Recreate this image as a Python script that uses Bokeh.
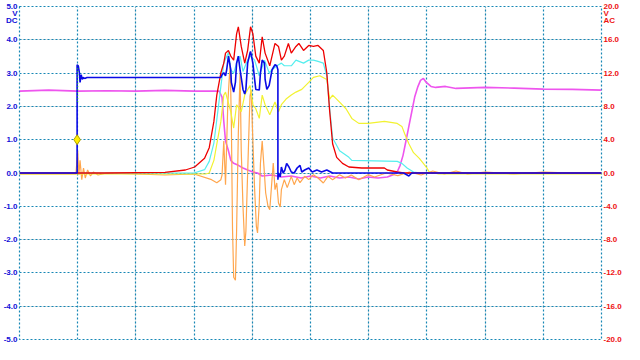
import numpy as np
from bokeh.plotting import figure
from bokeh.models import Range1d, LinearAxis, FixedTicker, PrintfTickFormatter, Grid
from bokeh.embed import file_html
from bokeh.resources import INLINE

# time axis in divisions (0..10), values in volts (left scale)
x_ticks = [0, 1, 2, 3, 4, 5, 6, 7, 8, 9, 10]
y_ticks = [-5, -4, -3, -2, -1, 0, 1, 2, 3, 4, 5]
r_ticks = [-20, -16, -12, -8, -4, 0, 4, 8, 12, 16, 20]
left_unit = {4.8: "V", 4.58: "DC"}
right_unit = {19.2: "V", 18.3: "AC"}

red_t = [0, 1.5, 2.5, 2.85, 3.01, 3.18, 3.26, 3.34, 3.39, 3.46, 3.51, 3.54, 3.59, 3.63, 3.68, 3.73, 3.76, 3.81,
         3.87, 3.92, 3.97, 4.01, 4.06, 4.12, 4.17, 4.22, 4.30, 4.39, 4.45, 4.50, 4.55, 4.62, 4.67, 4.75, 4.80,
         4.88, 4.97, 5.05, 5.13, 5.22, 5.28, 5.33, 5.38, 5.45, 5.55, 5.66, 5.88, 6.27, 6.32, 6.49, 6.6, 10]
red_v = [0, 0.0, 0.02, 0.09, 0.18, 0.44, 0.76, 1.55, 2.34, 3.01, 3.30, 3.60, 3.68, 3.51, 3.39, 4.18, 4.39, 3.80,
         3.30, 3.68, 4.39, 4.18, 3.51, 3.30, 4.09, 3.60, 3.22, 3.89, 3.80, 3.39, 3.51, 3.89, 3.60, 3.80, 3.89,
         3.68, 3.83, 3.80, 3.83, 3.68, 3.01, 1.84, 0.88, 0.47, 0.29, 0.18, 0.15, 0.15, 0.09, 0.03, 0, 0]

cyan_t = [0, 3.0, 3.18, 3.26, 3.34, 3.39, 3.46, 3.51, 3.59, 3.63, 3.68, 3.73, 3.79, 3.84, 3.92, 3.97, 4.04, 4.12,
          4.21, 4.29, 4.34, 4.42, 4.50, 4.55, 4.67, 4.75, 4.88, 4.97, 5.05, 5.13, 5.22, 5.28, 5.33, 5.38, 5.50,
          5.66, 5.71, 6.49, 6.57, 6.66, 6.77, 6.9, 10]
cyan_v = [0, 0.0, 0.1, 0.35, 0.9, 1.6, 2.6, 3.30, 3.62, 3.10, 3.00, 3.30, 3.51, 3.05, 3.40, 3.51, 3.39, 2.92,
          3.39, 3.01, 3.10, 3.22, 3.30, 3.22, 3.22, 3.39, 3.30, 3.39, 3.39, 3.35, 3.30, 2.92, 1.93, 1.05, 0.67,
          0.47, 0.38, 0.35, 0.29, 0.15, 0.03, 0, 0]

yel_t = [0, 3.2, 3.26, 3.34, 3.46, 3.51, 3.54, 3.63, 3.68, 3.73, 3.81, 3.87, 3.96, 4.01, 4.06, 4.12, 4.17, 4.22,
         4.30, 4.39, 4.45, 4.50, 4.58, 4.67, 4.75, 4.85, 4.97, 5.05, 5.16, 5.28, 5.33, 5.38, 5.50, 5.61, 5.71,
         5.83, 5.99, 6.27, 6.49, 6.57, 6.62, 6.69, 6.77, 6.87, 6.99, 7.04, 7.2, 10]
yel_v = [-0.03, -0.03, 0.0, 0.38, 1.55, 2.34, 2.43, 1.84, 1.35, 2.05, 1.84, 2.34, 2.63, 2.05, 1.93, 1.64, 2.34, 2.05,
         1.75, 2.13, 1.84, 2.05, 2.22, 2.34, 2.43, 2.51, 2.72, 2.87, 2.92, 2.81, 2.22, 2.34, 2.13, 1.93, 1.64,
         1.49, 1.49, 1.55, 1.49, 1.40, 1.17, 0.88, 0.61, 0.44, 0.18, 0.03, -0.03, -0.03]

mag_t = [0, 0.5, 1.0, 1.5, 2.0, 2.5, 3.0, 3.43, 3.48, 3.51, 3.54, 3.59, 3.63, 3.68, 3.76, 3.84, 3.92, 4.01, 4.09,
         4.17, 4.34, 4.50, 4.67, 4.84, 5.0, 5.17, 5.33, 5.50, 5.66, 5.83, 5.99, 6.16, 6.32, 6.41, 6.49, 6.54,
         6.59, 6.64, 6.69, 6.74, 6.79, 6.84, 6.89, 6.94, 6.99, 7.07, 7.15, 7.32, 7.5, 8, 8.5, 9, 9.5, 10]
mag_v = [2.46, 2.49, 2.46, 2.47, 2.46, 2.48, 2.46, 2.46, 2.28, 1.55, 0.96, 0.67, 0.38, 0.29, 0.23, 0.15, 0.09,
         0.03, 0.0, -0.09, -0.06, -0.12, -0.09, -0.15, -0.09, -0.15, -0.09, -0.15, -0.12, -0.18, -0.12, -0.15,
         -0.12, -0.06, 0.03, 0.23, 0.53, 0.96, 1.40, 1.84, 2.28, 2.57, 2.78, 2.84, 2.72, 2.60, 2.57, 2.60, 2.54,
         2.57, 2.55, 2.52, 2.51, 2.49]

blue_t = [0, 0.99, 0.99, 1.01, 1.03, 1.04, 1.06, 1.08, 1.09, 1.12, 1.16, 3.43, 3.46, 3.48, 3.51, 3.54, 3.56, 3.59,
          3.63, 3.64, 3.68, 3.71, 3.73, 3.76, 3.79, 3.84, 3.87, 3.89, 3.92, 3.96, 3.97, 4.01, 4.04, 4.06, 4.12,
          4.14, 4.17, 4.21, 4.22, 4.25, 4.29, 4.34, 4.39, 4.42, 4.44, 4.44, 4.45, 4.48, 4.50, 4.53, 4.56, 4.59,
          4.63, 4.67, 4.72, 4.77, 4.82, 4.85, 4.90, 4.97, 5.03, 5.11, 5.19, 5.28, 5.38, 6.6, 6.69, 6.74, 10]
blue_v = [0, 0, 3.25, 3.22, 3.0, 2.72, 2.95, 2.81, 2.87, 2.84, 2.87, 2.87, 2.87, 2.95, 3.01, 2.92, 3.10, 3.51,
          3.10, 2.72, 2.43, 2.72, 3.30, 3.51, 3.10, 2.51, 2.37, 2.51, 3.30, 3.60, 3.65, 3.30, 2.81, 2.51, 2.49,
          3.01, 3.39, 3.30, 2.81, 2.51, 2.63, 3.10, 3.25, 3.22, 3.10, -0.20, 0.0, -0.12, 0.18, 0.0, 0.09, 0.29,
          0.18, 0.03, 0.0, 0.15, 0.23, 0.03, 0.09, 0.15, 0.03, 0.09, 0.03, 0.09, 0.0, 0.0, -0.09, 0.0, 0]

org_t = [0, 0.5, 0.97, 1.0, 1.02, 1.04, 1.07, 1.1, 1.13, 1.17, 1.22, 1.27, 1.35, 1.5, 2, 2.5, 3.0, 3.3, 3.39,
         3.46, 3.48, 3.51, 3.54, 3.58, 3.62, 3.64, 3.66, 3.68, 3.71, 3.73, 3.76, 3.79, 3.81, 3.84, 3.87, 3.89,
         3.92, 3.96, 3.98, 4.01, 4.04, 4.07, 4.09, 4.12, 4.14, 4.17, 4.20, 4.23, 4.27, 4.30, 4.33, 4.36, 4.39,
         4.42, 4.45, 4.48, 4.50, 4.55, 4.60, 4.67, 4.72, 4.77, 4.82, 4.90, 4.97, 5.05, 5.13, 5.22, 5.3, 5.38,
         5.5, 5.6, 5.7, 5.83, 5.99, 6.1, 6.3, 6.5, 6.7, 6.9, 7.1, 7.3, 7.5, 7.7, 8, 8.5, 9, 9.5, 10]
org_v = [-0.03, -0.02, -0.03, 0.67, -0.06, 0.38, -0.2, 0.15, -0.15, 0.09, -0.09, 0.03, -0.06, 0.0, -0.03, -0.06,
         -0.03, -0.2, -0.29, -0.2, -0.06, 0.96, -0.35, 2.13, 3.30, 1.55, -1.67, -3.13, -3.22, -1.75, 1.20, 3.01,
         0.67, -1.0, -2.19, -1.75, 0.0, 2.3, 2.5, 0.96, -0.50, -1.6, -1.8, -0.9, 0.3, 0.96, 0.2, -0.6, -1.0, -1.1,
         -0.4, 0.3, -0.5, -0.3, -0.9, -1.02, -0.5, -0.2, -0.44, -0.1, -0.35, -0.15, -0.29, -0.1, -0.2, -0.05,
         -0.15, -0.3, -0.1, -0.2, -0.05, -0.15, -0.06, -0.2, -0.05, -0.12, 0.0, -0.08, 0.03, -0.06, 0.06, -0.03,
         0.06, -0.03, 0.03, -0.03, 0.03, 0.0, 0.0]

trig_t = [0.99]
trig_v = [1.0]
cursor_t = [1.0, 1.0]
cursor_v = [2.13, 3.22]

GRID = "#1787b5"
FONT = "Liberation Sans"

p = figure(width=624, height=344, output_backend="svg", toolbar_location=None,
           x_range=Range1d(0, 10), y_range=Range1d(-5, 5),
           x_axis_location=None, y_axis_location=None,
           min_border_left=4, min_border_right=4, min_border_top=6, min_border_bottom=5,
           background_fill_color="white", border_fill_color="white")
p.outline_line_color = GRID
p.outline_line_dash = "2 2"
p.outline_line_width = 1.2

p.add_layout(Grid(dimension=0, ticker=FixedTicker(ticks=x_ticks), grid_line_color=GRID,
                  grid_line_dash="2 2", grid_line_width=1.2))
p.add_layout(Grid(dimension=1, ticker=FixedTicker(ticks=y_ticks), grid_line_color=GRID,
                  grid_line_dash="2 2", grid_line_width=1.2))

left = LinearAxis(ticker=FixedTicker(ticks=y_ticks + list(left_unit.keys())),
                  formatter=PrintfTickFormatter(format="%.1f"),
                  major_label_overrides=left_unit)
p.add_layout(left, "left")
p.extra_y_ranges = {"r": Range1d(-20, 20)}
right = LinearAxis(y_range_name="r", ticker=FixedTicker(ticks=r_ticks + list(right_unit.keys())),
                   formatter=PrintfTickFormatter(format="%.1f"),
                   major_label_overrides=right_unit)
p.add_layout(right, "right")
for ax, col in ((left, "#1010d8"), (right, "#ee1111")):
    ax.axis_line_color = None
    ax.major_tick_line_color = None
    ax.minor_tick_line_color = None
    ax.major_tick_out = 0
    ax.major_tick_in = 0
    ax.minor_tick_out = 0
    ax.minor_tick_in = 0
    ax.major_label_text_color = col
    ax.major_label_text_font = FONT
    ax.major_label_text_font_style = "bold"
    ax.major_label_text_font_size = "8px"
    ax.major_label_standoff = 2

p.line(mag_t, mag_v, color="#ee55ee", line_width=1.6)
p.line(org_t, org_v, color="#ffa64d", line_width=1.2)
p.line(yel_t, yel_v, color="#f2f230", line_width=1.2)
p.line(cyan_t, cyan_v, color="#55eeee", line_width=1.2)
p.line(red_t, red_v, color="#ee0000", line_width=1.3)
p.line(blue_t, blue_v, color="#0a0ae6", line_width=1.6)
p.line(cursor_t, cursor_v, color="#22cc22", line_width=1, line_dash="1 2")
p.scatter(trig_t, trig_v, marker="diamond", size=10, fill_color="#ffee00", line_color="#b0a000")

open("out.html", "w").write(file_html(p, INLINE))
